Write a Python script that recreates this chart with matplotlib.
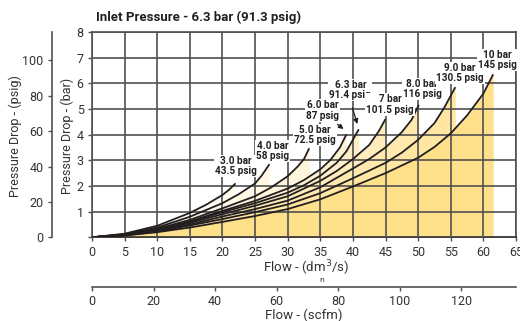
import matplotlib.pyplot as plt

plt.rcParams['font.family'] = ['Roboto', 'DejaVu Sans']

# courbes : perte de charge (bar) en fonction du debit (dm3/s)
pressures = ['3.0 bar', '4.0 bar', '5.0 bar', '6.0 bar', '6.3 bar', '7 bar', '8.0 bar', '9.0 bar', '10 bar']
psig = ['43.5 psig', '58 psig', '72.5 psig', '87 psig', '91.4 psig', '101.5 psig', '116 psig', '130.5 psig', '145 psig']

flow_3 = [0, 5, 10, 15, 17.5, 20, 21, 22]
dp_3 = [0, 0.14, 0.45, 0.95, 1.27, 1.65, 1.85, 2.1]
flow_4 = [0, 5, 10, 15, 20, 22.5, 25, 26, 27.2]
dp_4 = [0, 0.12, 0.38, 0.8, 1.33, 1.68, 2.1, 2.4, 2.85]
flow_5 = [0, 5, 10, 15, 20, 25, 27.5, 30, 31.5, 32.5, 33.3]
dp_5 = [0, 0.11, 0.33, 0.68, 1.13, 1.6, 1.95, 2.38, 2.75, 3.05, 3.47]
flow_6 = [0, 5, 10, 15, 20, 25, 30, 32.5, 35, 36.5, 38, 39]
dp_6 = [0, 0.1, 0.3, 0.62, 1.03, 1.42, 1.9, 2.23, 2.65, 3.0, 3.5, 4.01]
flow_63 = [0, 5, 10, 15, 20, 25, 30, 32.5, 35, 37.5, 39, 40.9]
dp_63 = [0, 0.095, 0.29, 0.6, 0.98, 1.33, 1.74, 2.03, 2.4, 2.9, 3.35, 4.21]
flow_7 = [0, 5, 10, 15, 20, 25, 30, 35, 37.5, 40, 42.5, 44, 45]
dp_7 = [0, 0.09, 0.27, 0.56, 0.9, 1.23, 1.6, 2.2, 2.58, 3.05, 3.6, 4.15, 4.61]
flow_8 = [0, 5, 10, 15, 20, 25, 30, 35, 40, 42.5, 45, 47.5, 49, 50.1]
dp_8 = [0, 0.085, 0.25, 0.5, 0.81, 1.1, 1.43, 1.95, 2.68, 3.05, 3.5, 4.1, 4.58, 5.16]
flow_9 = [0, 5, 10, 15, 20, 25, 30, 35, 40, 45, 47.5, 50, 52.5, 54, 55.7]
dp_9 = [0, 0.075, 0.22, 0.46, 0.71, 0.98, 1.28, 1.72, 2.3, 2.9, 3.3, 3.8, 4.45, 5.05, 5.85]
flow_10 = [0, 5, 10, 15, 20, 25, 30, 35, 40, 45, 50, 52.5, 55, 57.5, 60, 61.5]
dp_10 = [0, 0.07, 0.2, 0.38, 0.6, 0.83, 1.1, 1.48, 1.98, 2.5, 3.1, 3.52, 4.05, 4.75, 5.6, 6.35]

flows = [flow_3, flow_4, flow_5, flow_6, flow_63, flow_7, flow_8, flow_9, flow_10]
dps = [dp_3, dp_4, dp_5, dp_6, dp_63, dp_7, dp_8, dp_9, dp_10]

fill_colors = ['#FFFBEE', '#FFF8E4', '#FFF5DA', '#FFF2D0', '#FFEFC6', '#FFECBA',
               '#FFE9AE', '#FFE6A2', '#FFE08A']

# position des etiquettes (debit, bar)
label_x = [22.1, 27.7, 34.2, 35.4, 39.6, 45.7, 50.6, 56.4, 62.1]
label_y = [2.78, 3.36, 3.99, 4.94, 5.74, 5.17, 5.78, 6.40, 6.91]

fig = plt.figure(figsize=(5.2, 3.21), dpi=100)
ax = fig.add_axes([92 / 520, 83.7 / 321, 424 / 520, 205.3 / 321])

for q, dp, c in zip(flows, dps, fill_colors):
    ax.fill_between(q, 0, dp, color=c, lw=0, zorder=1)
for q, dp in zip(flows, dps):
    ax.plot(q, dp, color='#231f20', lw=1.3, zorder=3, solid_capstyle='butt')

ax.set_xlim(0, 65)
ax.set_ylim(0, 8)
ax.set_xticks(range(0, 66, 5))
ax.set_yticks(range(0, 9))
ax.set_yticklabels([''] + [str(i) for i in range(1, 9)])
ax.set_axisbelow(False)
ax.grid(True, color='#505050', lw=1.2)
for s in ax.spines.values():
    s.set_color('#505050')
    s.set_linewidth(1.2)
ax.spines['bottom'].set_color('#231f20')
ax.tick_params(labelsize=9, length=3, width=1, color='#505050', labelcolor='#333333', pad=3)

for i in range(len(pressures)):
    ax.text(label_x[i], label_y[i], pressures[i] + '\n' + psig[i], ha='center', va='center',
            fontsize=7.2, fontweight='bold', color='#231f20', linespacing=1.1, zorder=5,
            bbox=dict(boxstyle='square,pad=0.1', fc='white', ec='none'))

ax.annotate('', xy=(38.9, 4.15), xytext=(37.3, 4.47),
            arrowprops=dict(arrowstyle='-|>', color='#231f20', lw=0.9, mutation_scale=7), zorder=4)
ax.annotate('', xy=(40.8, 4.31), xytext=(39.8, 5.15),
            arrowprops=dict(arrowstyle='-|>', color='#231f20', lw=0.9, mutation_scale=7), zorder=4)

# axe secondaire psig
sy = ax.secondary_yaxis(-40 / 424, functions=(lambda b: b * 14.5038, lambda p: p / 14.5038))
sy.set_yticks(range(0, 101, 20))
sy.spines['left'].set_color('#505050')
sy.spines['left'].set_linewidth(1.2)
sy.tick_params(labelsize=9, length=3, width=1, color='#505050', labelcolor='#333333', pad=3)

# axe secondaire scfm
sx = ax.secondary_xaxis(-49.4 / 205.3, functions=(lambda q: q * 2.1189, lambda s: s / 2.1189))
sx.set_xticks(range(0, 121, 20))
sx.spines['bottom'].set_color('#505050')
sx.spines['bottom'].set_linewidth(1.2)
sx.tick_params(labelsize=9, length=3, width=1, color='#505050', labelcolor='#333333', pad=3)

fig.text(96 / 520, 1 - 17 / 321, 'Inlet Pressure - 6.3 bar (91.3 psig)', fontsize=9.5,
         fontweight='bold', color='#231f20', va='center', ha='left')
fig.text(15 / 520, 1 - 136 / 321, 'Pressure Drop - (psig)', rotation=90, fontsize=9,
         color='#333333', va='center', ha='center')
fig.text(67 / 520, 1 - 136 / 321, 'Pressure Drop - (bar)', rotation=90, fontsize=9,
         color='#333333', va='center', ha='center')
fig.text(306 / 520, 1 - 268 / 321, 'Flow - (dm$^3$/s)', fontsize=9.5, color='#333333',
         va='center', ha='center')
fig.text(322 / 520, 1 - 280 / 321, 'n', fontsize=6, color='#333333', va='center', ha='center')
fig.text(304 / 520, 1 - 315 / 321, 'Flow - (scfm)', fontsize=9.5, color='#333333',
         va='center', ha='center')

plt.savefig('out.png', dpi=100)
